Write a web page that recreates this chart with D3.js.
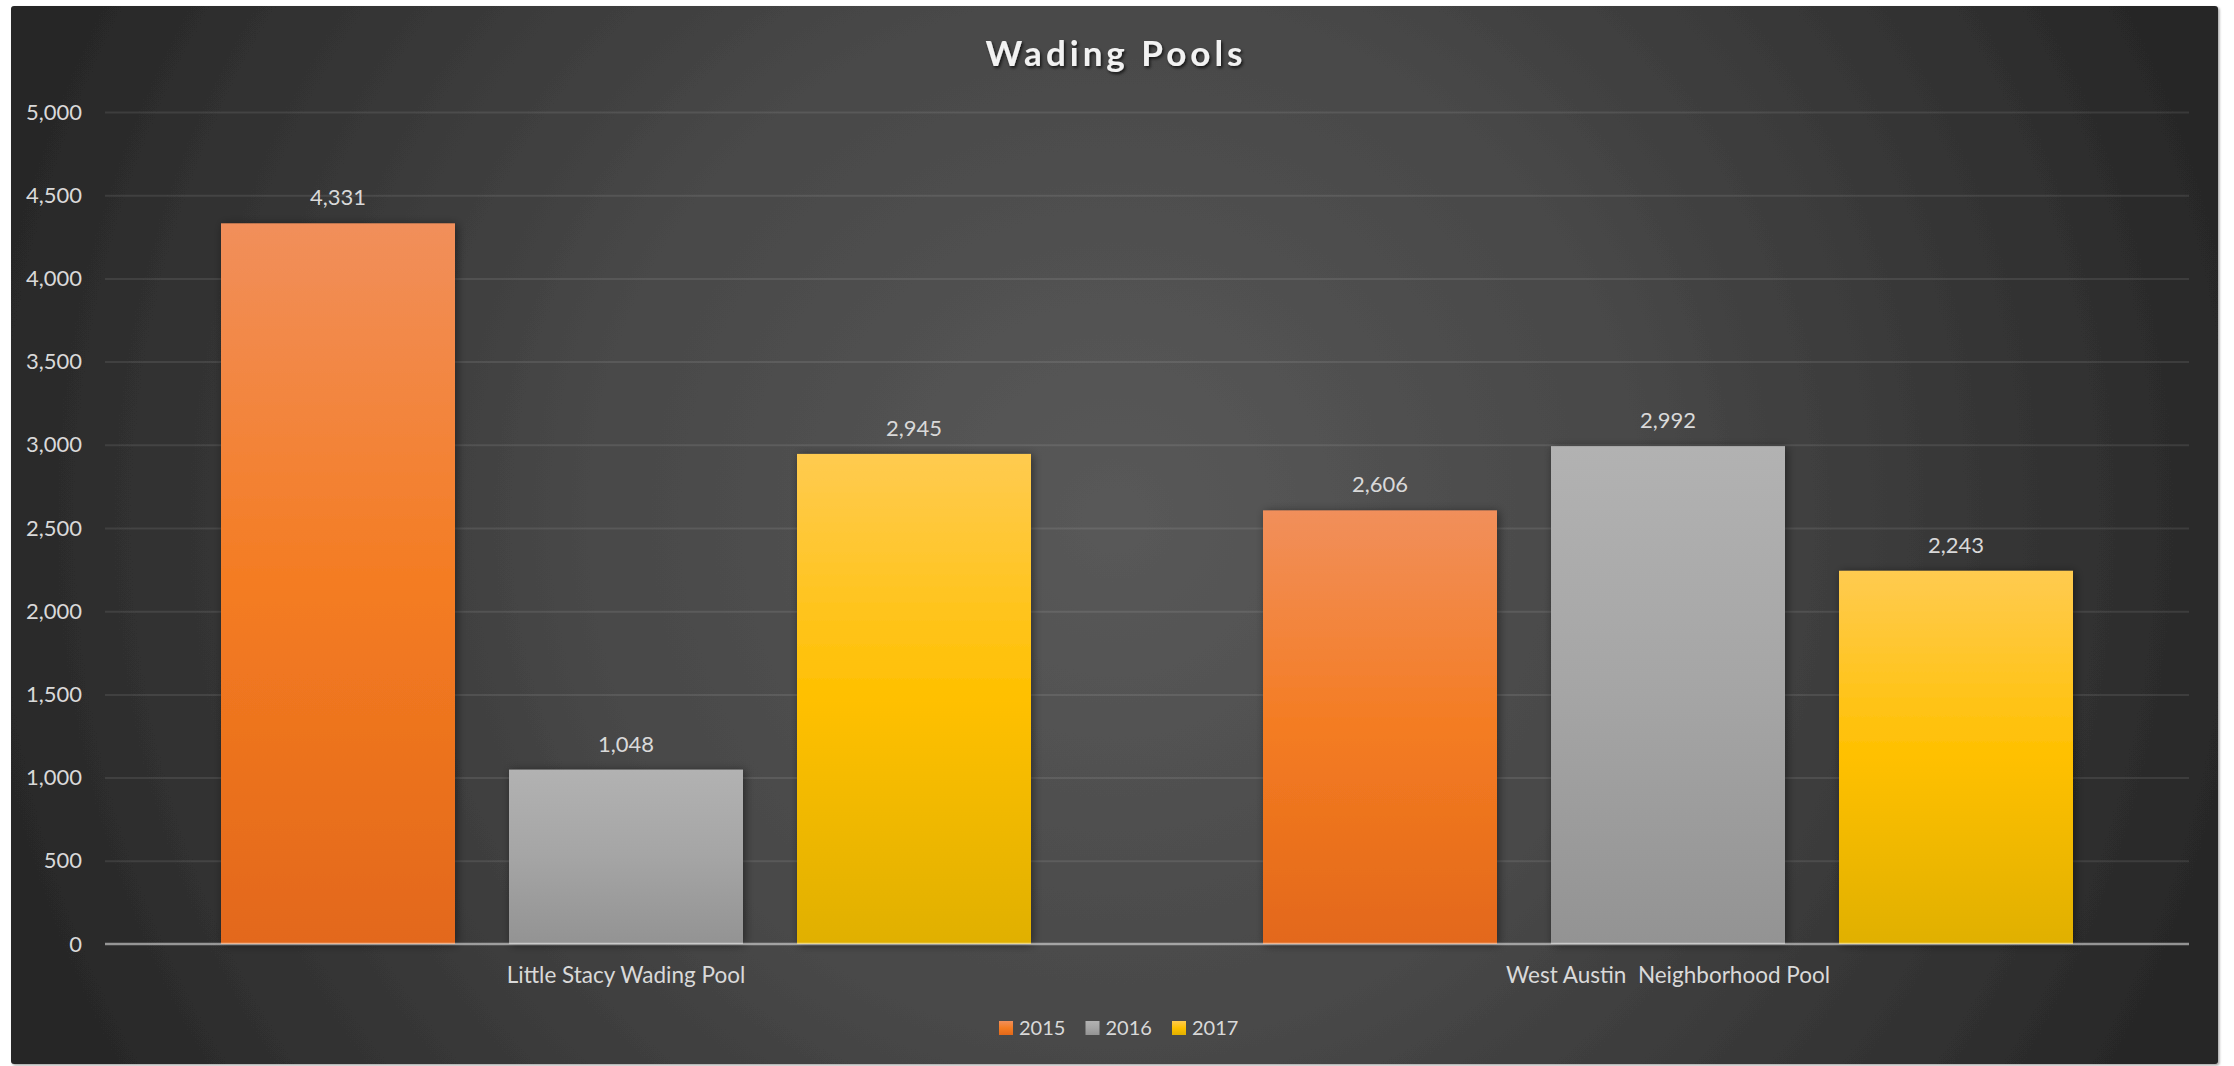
<!DOCTYPE html>
<html>
<head>
<meta charset="utf-8">
<script src="https://cdn.jsdelivr.net/npm/d3@7"></script>
<style>
  html, body { margin: 0; padding: 0; background: #ffffff; }
  svg { display: block; }
  text { font-family: Lato, "Open Sans", sans-serif; }
</style>
</head>
<body>
<svg id="chart" width="2234" height="1066"></svg>
<script>
// ---- data ----
const title = "Wading Pools";
const categories = ["Little Stacy Wading Pool", "West Austin  Neighborhood Pool"];
const seriesNames = ["2015", "2016", "2017"];
const values2015 = [4331, 2606];
const values2016 = [1048, 2992];
const values2017 = [2945, 2243];
const yTicks = [0, 500, 1000, 1500, 2000, 2500, 3000, 3500, 4000, 4500, 5000];

const seriesValues = [values2015, values2016, values2017];
const gradStops = [
  ["#F18F5B", "#F47C22", "#E3681A"],
  ["#B2B2B2", "#A5A5A5", "#939393"],
  ["#FFCB50", "#FFC000", "#E0B000"]
];

const svg = d3.select("#chart");
const frame = {x: 11, y: 6, w: 2207, h: 1058};
const plot = {left: 105, right: 2189, top: 112, bottom: 944};

const defs = svg.append("defs");
const bg = defs.append("radialGradient").attr("id", "bgGrad")
  .attr("gradientUnits", "userSpaceOnUse")
  .attr("cx", 1115).attr("cy", 520).attr("r", 1170);
bg.append("stop").attr("offset", "0").attr("stop-color", "#595959");
bg.append("stop").attr("offset", "0.45").attr("stop-color", "#484848");
bg.append("stop").attr("offset", "0.97").attr("stop-color", "#282828");
bg.append("stop").attr("offset", "1").attr("stop-color", "#262626");

seriesNames.forEach((s, i) => {
  const g = defs.append("linearGradient").attr("id", "g" + i)
    .attr("x1", 0).attr("y1", 0).attr("x2", 0).attr("y2", 1);
  g.append("stop").attr("offset", "0").attr("stop-color", gradStops[i][0]);
  g.append("stop").attr("offset", "0.5").attr("stop-color", gradStops[i][1]);
  g.append("stop").attr("offset", "1").attr("stop-color", gradStops[i][2]);
});

const shadow = defs.append("filter").attr("id", "barShadow")
  .attr("x", "-10%").attr("y", "-10%").attr("width", "130%").attr("height", "130%");
shadow.append("feDropShadow").attr("dx", 2).attr("dy", 1).attr("stdDeviation", 5)
  .attr("flood-color", "#000").attr("flood-opacity", 0.45);

const tshadow = defs.append("filter").attr("id", "titleShadow")
  .attr("x", "-10%").attr("y", "-30%").attr("width", "120%").attr("height", "160%");
tshadow.append("feDropShadow").attr("dx", 1.5).attr("dy", 2).attr("stdDeviation", 1.5)
  .attr("flood-color", "#000").attr("flood-opacity", 0.7);

const frameShadow = defs.append("filter").attr("id", "frameShadow")
  .attr("x", "-2%").attr("y", "-2%").attr("width", "104%").attr("height", "104%");
frameShadow.append("feDropShadow").attr("dx", 1.5).attr("dy", 1.5).attr("stdDeviation", 1)
  .attr("flood-color", "#000").attr("flood-opacity", 0.35);

// chart area
svg.append("rect")
  .attr("x", frame.x).attr("y", frame.y).attr("width", frame.w).attr("height", frame.h)
  .attr("rx", 3).attr("fill", "url(#bgGrad)").attr("filter", "url(#frameShadow)");

// scales
const y = d3.scaleLinear().domain([0, 5000]).range([plot.bottom, plot.top]);
const x0 = d3.scaleBand().domain(categories).range([plot.left, plot.right]).padding(0);
const groupPad = 116;
const x1 = d3.scaleBand().domain(seriesNames)
  .range([groupPad, x0.bandwidth() - groupPad]).paddingInner(0.1875).paddingOuter(0);

// gridlines
const grid = svg.append("g").attr("transform", `translate(${plot.left},0)`)
  .call(d3.axisLeft(y).tickValues(yTicks.filter(v => v > 0))
    .tickSize(-(plot.right - plot.left)).tickFormat(""));
grid.select(".domain").remove();
grid.selectAll("line").attr("stroke", "rgba(255,255,255,0.09)").attr("stroke-width", 2);

// y axis labels
const yAxis = svg.append("g").attr("transform", `translate(${plot.left},0)`)
  .call(d3.axisLeft(y).tickValues(yTicks).tickFormat(d3.format(",")).tickSize(0).tickPadding(23));
yAxis.select(".domain").remove();
yAxis.selectAll("text").attr("fill", "#D9D9D9").style("font-size", "22px")
  .style("font-family", "Lato, 'Open Sans', sans-serif");

// bars
const data = [];
categories.forEach((c, ci) => {
  seriesNames.forEach((s, si) => data.push({cat: c, ser: s, si, v: seriesValues[si][ci]}));
});

svg.append("g").selectAll("rect").data(data).join("rect")
  .attr("x", d => x0(d.cat) + x1(d.ser))
  .attr("y", d => y(d.v))
  .attr("width", x1.bandwidth())
  .attr("height", d => y(0) - y(d.v))
  .attr("fill", d => `url(#g${d.si})`)
  .attr("filter", "url(#barShadow)");

// data labels
svg.append("g").selectAll("text").data(data).join("text")
  .attr("x", d => x0(d.cat) + x1(d.ser) + x1.bandwidth() / 2)
  .attr("y", d => y(d.v) - 18)
  .attr("text-anchor", "middle")
  .attr("fill", "#D9D9D9")
  .style("font-size", "22px")
  .text(d => d3.format(",")(d.v));

// x axis
const xAxis = svg.append("g").attr("transform", `translate(0,${plot.bottom})`)
  .call(d3.axisBottom(x0).tickSize(0).tickPadding(23));
xAxis.select(".domain").remove();
xAxis.selectAll("text").attr("fill", "#D9D9D9").style("font-size", "22.5px")
  .style("font-family", "Lato, 'Open Sans', sans-serif")
  .style("white-space", "pre");

svg.append("line")
  .attr("x1", plot.left).attr("x2", plot.right)
  .attr("y1", y(0)).attr("y2", y(0))
  .attr("stroke", "rgba(255,255,255,0.5)").attr("stroke-width", 2.5);

// title
svg.append("text")
  .attr("x", 1116).attr("y", 66)
  .attr("text-anchor", "middle")
  .attr("fill", "#F2F2F2")
  .attr("filter", "url(#titleShadow)")
  .style("font-size", "35px").style("font-weight", "bold")
  .style("letter-spacing", "4px")
  .text(title);

// legend
const legend = svg.append("g").attr("transform", "translate(999,1021)");
const li = legend.selectAll("g").data(seriesNames).join("g")
  .attr("transform", (d, i) => `translate(${i * 86.5},0)`);
li.append("rect").attr("width", 14).attr("height", 14)
  .attr("fill", (d, i) => `url(#g${i})`);
li.append("text").attr("x", 20).attr("y", 14)
  .attr("fill", "#D9D9D9").style("font-size", "20px")
  .text(d => d);
</script>
</body>
</html>
